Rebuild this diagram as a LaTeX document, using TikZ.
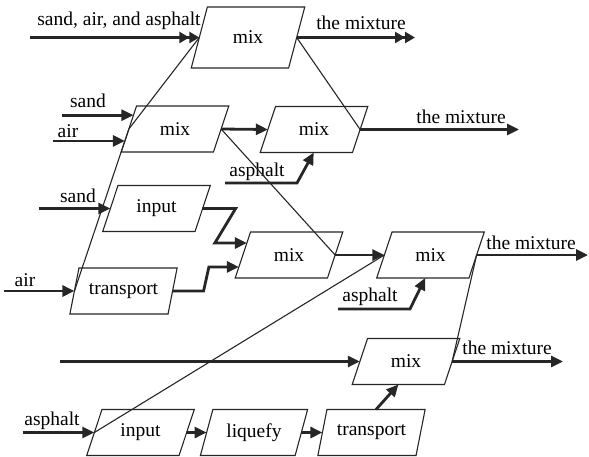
\documentclass[tikz,border=0pt]{standalone}
\usepackage{fontspec}
\setmainfont{Liberation Serif}
\usetikzlibrary{shapes.geometric,arrows.meta,calc}
\begin{document}
\begin{tikzpicture}[x=1pt,y=-1pt,
  font=\fontsize{19.5}{22}\selectfont,
  pgram/.style={draw=black!85, line width=1.1pt, trapezium, trapezium left angle=65,
    trapezium right angle=115, trapezium stretches=true, minimum width=108pt,
    minimum height=46pt, inner sep=0pt, outer sep=0pt},
  arr/.style={draw=black!85, line width=2.8pt, -{Triangle[length=12pt,width=11pt]}},
  darr/.style={draw=black!85, line width=2.8pt, -{Triangle[length=10pt,width=11pt] Triangle[length=10pt,width=11pt]}},
  thin/.style={draw=black!85, line width=1.1pt},
  lab/.style={inner sep=0pt}]
\useasboundingbox (0,0) rectangle (589,456);
% nodes
\node[pgram, minimum width=114pt, minimum height=61pt] (p1) at (248,37.5) {mix};
\node[pgram] (p2) at (175,129) {mix};
\node[pgram] (p3) at (314,129.5) {mix};
\node[pgram] (p10) at (156.5,208.5) {input};
\node[pgram] (p11) at (123.5,291) {transport};
\node[pgram] (p4) at (289,255) {mix};
\node[pgram] (p5) at (430.5,255) {mix};
\node[pgram] (p6) at (406,361.5) {mix};
\node[pgram] (p7) at (140.5,432.5) {input};
\node[pgram] (p8) at (254,432.5) {liquefy};
\node[pgram] (p9) at (371.5,432.5) {transport};
% labels
\node[lab] (l1) at (119,21) {sand, air, and asphalt};
\node[lab] (l2) at (361,23) {the mixture};
\node[lab] (l3) at (88,101) {sand};
\node[lab] (l4) at (68,131) {air};
\node[lab] (l5) at (461,117) {the mixture};
\node[lab] (l6) at (257,172) {asphalt};
\node[lab] (l7) at (78,196) {sand};
\node[lab] (l8) at (25,280) {air};
\node[lab] (l9) at (531,243) {the mixture};
\node[lab] (l10) at (370,297) {asphalt};
\node[lab] (l11) at (507,348) {the mixture};
\node[lab] (l12) at (52,421) {asphalt};
% helper coordinates
\coordinate (s0) at (30,37.5);
\coordinate (e0) at (415,37.5);
\coordinate (e1) at (519,129.5);
\coordinate (e2) at (588,255);
\coordinate (e3) at (563,361.5);
\coordinate (s6) at (60,361.5);
\coordinate (p2a) at ($(p2.bottom left corner)!0.8!(p2.top left corner)$);
\coordinate (p2b) at ($(p2.bottom left corner)!0.24!(p2.top left corner)$);
\coordinate (p3b) at ($(p3.bottom left corner)!0.58!(p3.bottom right corner)$);
\coordinate (p4a) at ($(p4.bottom left corner)!0.76!(p4.top left corner)$);
\coordinate (p4b) at ($(p4.bottom left corner)!0.24!(p4.top left corner)$);
\coordinate (p5b) at ($(p5.bottom left corner)!0.525!(p5.bottom right corner)$);
\coordinate (p9t) at ($(p9.top left corner)!0.5!(p9.top right corner)$);
\coordinate (p6b) at ($(p6.bottom left corner)!0.5!(p6.bottom right corner)$);
% thin decomposition lines
\draw[thin] (p1.left side) -- (p2.left side) -- (p11.left side);
\draw[thin] (p1.right side) -- (p3.right side);
\draw[thin] (p2.right side) -- (p4.right side);
\draw[thin] (p5.left side) -- (p7.left side);
\draw[thin] (p5.right side) -- (p6.right side);
% arrows
\draw[darr] (s0) -- (p1.left side);
\draw[darr] (p1.right side) -- (e0);
\draw[arr] ($(p2a)+(-71,0)$) -- (p2a);
\draw[arr] ($(p2b)+(-72,0)$) -- (p2b);
\draw[arr] (p2.right side) -- (p3.left side);
\draw[arr] (p3.right side) -- (e1);
\draw[arr] (225,183) -- (297,183) -- (p3b);
\draw[arr] ($(p10.left side)+(-71,0)$) -- (p10.left side);
\draw[arr] ($(p11.left side)+(-70,0)$) -- (p11.left side);
\draw[arr] (p10.right side) -- ++(33,0) -- ($(p4a)+(-32,0)$) -- (p4a);
\draw[arr] (p11.right side) -- ++(31,0) -- ($(p4b)+(-30,0)$) -- (p4b);
\draw[arr] (p4.right side) -- (p5.left side);
\draw[arr] (p5.right side) -- (e2);
\draw[arr] (338,309) -- (410,309) -- (p5b);
\draw[arr] (s6) -- (p6.left side);
\draw[arr] (p6.right side) -- (e3);
\draw[arr] ($(p7.left side)+(-71,0)$) -- (p7.left side);
\draw[arr] (p7.right side) -- (p8.left side);
\draw[arr] (p8.right side) -- (p9.left side);
\draw[arr] (p9t) -- (p6b);
\end{tikzpicture}
\end{document}
